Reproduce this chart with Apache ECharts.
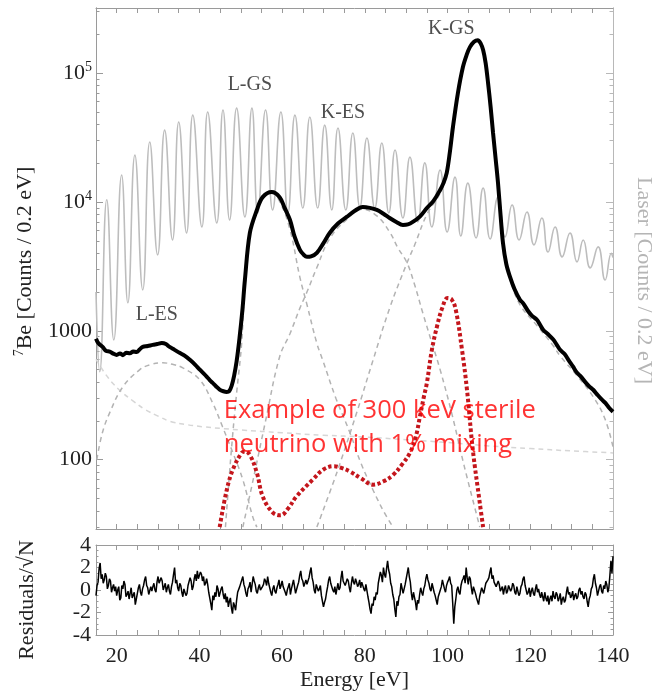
<!DOCTYPE html>
<html>
<head>
<meta charset="utf-8">
<script src="https://cdn.jsdelivr.net/npm/echarts@6.0.0/dist/echarts.min.js"></script>
<style>
  html, body { margin: 0; padding: 0; background: #fff; }
  #chart { width: 653px; height: 693px; }
</style>
</head>
<body>
<div id="chart"></div>
<script>
// energy axis ticks / labels [eV]
const energyTicks = [20, 25, 30, 35, 40, 45, 50, 55, 60, 65, 70, 75, 80, 85, 90, 95, 100, 105, 110, 115, 120, 125, 130, 135];
const energyLabels = [20, 40, 60, 80, 100, 120, 140];
const countMajor = [100, 1000, 10000, 100000];
const countMinor = [30, 40, 50, 60, 70, 80, 90, 200, 300, 400, 500, 600, 700, 800, 900,
  2000, 3000, 4000, 5000, 6000, 7000, 8000, 9000, 20000, 30000, 40000, 50000, 60000, 70000, 80000, 90000, 200000, 300000];

// 7Be spectrum (total), [E, counts]
const be7Total = [
  [15.0, 870], [15.6, 800], [16.6, 750], [17.4, 700], [18.3, 690], [19.2, 665], [20.0, 650], [20.8, 668],
  [21.5, 648], [22.3, 675], [23.2, 670], [24.0, 690], [24.8, 685], [25.6, 720], [26.3, 750], [27.5, 762],
  [28.7, 778], [29.8, 790], [30.9, 805], [31.9, 790], [32.8, 750], [34.0, 712], [35.2, 675], [36.5, 640],
  [37.7, 596], [39.0, 545], [40.1, 500], [41.0, 468], [41.8, 440], [42.5, 415], [43.2, 395], [44.0, 372],
  [44.9, 350], [45.8, 340], [46.6, 336], [47.2, 340], [47.8, 375], [48.4, 450], [49.0, 580], [49.7, 880],
  [50.4, 1450], [51.0, 2480], [52.2, 5750], [53.9, 8670], [55.3, 10900], [57.5, 11950], [59.4, 10900],
  [60.6, 9000], [61.9, 7250], [63.0, 5400], [64.3, 4250], [65.2, 3900], [66.0, 3750], [67.0, 3780],
  [68.4, 4030], [70.0, 4800], [71.5, 5750], [73.5, 6800], [75.6, 7650], [77.5, 8500], [79.5, 9150],
  [81.2, 9000], [82.9, 8670], [84.5, 8100], [86.0, 7510], [87.6, 7000], [89.2, 6640], [90.4, 6700],
  [91.6, 7000], [93.3, 7700], [95.0, 8980], [96.6, 10200], [98.2, 12400], [99.0, 14000], [99.8, 16800],
  [100.6, 25000], [101.3, 38100], [102.5, 70000], [103.7, 111000], [104.6, 138000], [105.4, 159000],
  [106.4, 175000], [107.3, 180000], [108.0, 170000], [108.6, 151000], [109.2, 120000], [109.8, 83500],
  [110.4, 55000], [111.0, 34300], [111.6, 22000], [112.2, 14000], [112.8, 8000], [113.4, 4810],
  [114.2, 3300], [115.1, 2620], [116.2, 2100], [117.5, 1740], [118.2, 1650], [119.5, 1420], [120.5, 1300],
  [121.6, 1220], [122.4, 1110], [123.1, 1020], [124.3, 940], [125.5, 860], [126.3, 790], [127.2, 713],
  [128.3, 660], [129.3, 590], [130.3, 530], [131.3, 472], [132.3, 440], [133.3, 400], [134.2, 372],
  [135.2, 349], [136.2, 320], [137.2, 295], [138.2, 275], [139.1, 252], [140.0, 236]
];

// fit components
const bgComp = [[15, 600], [18, 430], [21, 340], [24, 285], [27, 244], [30, 218], [33, 198], [37, 187], [41, 180],
  [46, 174], [50, 170], [60, 162], [70, 155], [80, 150], [90, 143], [100, 136], [110, 128], [120, 122], [130, 117], [140, 113]];
const lesComp = [[15.2, 100], [16.5, 160], [18.3, 231], [21.5, 368], [25.6, 500], [28.0, 545], [31.1, 565], [33.5, 550],
  [36.0, 516], [40.1, 417], [43.2, 276], [45.6, 180], [48.1, 113], [50.5, 70], [52.9, 36], [53.9, 30]];
const lgsComp = [[46.3, 30], [47.0, 60], [48.0, 150], [49.0, 330], [50.2, 790], [51.0, 2250], [52.2, 5500], [53.9, 8400],
  [55.3, 10600], [57.5, 11700], [59.4, 10100], [61.9, 6100], [64.3, 2600], [66.0, 1600], [68.4, 800], [69.8, 595],
  [73.0, 300], [76.4, 162], [79.0, 95], [82.0, 58], [84.5, 40], [86.8, 30]];
const kesComp = [[50.5, 30], [53.0, 70], [56.0, 200], [59.4, 630], [61.9, 950], [64.3, 1500], [66.0, 2000], [68.4, 3100],
  [71.5, 5200], [75.6, 7300], [79.5, 8800], [82.9, 7800], [86.0, 5850], [88.0, 4400], [90.2, 3370], [92.0, 2300],
  [94.0, 1380], [96.0, 850], [98.2, 500], [101.0, 230], [104.0, 90], [107.8, 30]];
const kgsComp = [[68.4, 30], [73.2, 79], [78.0, 230], [82.0, 595], [86.0, 1500], [90.2, 3370], [92.0, 4600], [95.0, 8000],
  [98.2, 11700], [99.8, 16500], [101.3, 38000], [102.5, 70000], [103.7, 111000], [105.4, 159000], [107.3, 180000],
  [108.6, 151000], [109.8, 83500], [111.0, 34300], [112.2, 14000], [113.4, 4800], [115.1, 2550], [117.5, 1600],
  [121.6, 1100], [125.5, 770], [127.2, 640], [131.3, 450], [135.2, 308], [138.0, 210], [140.0, 126]];

// sterile neutrino example (300 keV, 1% mixing)
const sterile = [[44.9, 30], [46.6, 58], [48.1, 84], [50.2, 113], [51.0, 116], [52.2, 109], [53.9, 79], [55.3, 52],
  [57.7, 39], [59.6, 37], [61.5, 42], [63.5, 52], [67.4, 70], [70.0, 84], [72.5, 89], [74.5, 86], [76.4, 81],
  [79.0, 72], [82.0, 64], [84.5, 68], [86.8, 76], [89.0, 92], [90.9, 113], [92.3, 150], [93.3, 215], [94.2, 300],
  [95.0, 395], [96.2, 710], [97.5, 1100], [98.7, 1500], [100.0, 1800], [101.0, 1750], [102.0, 1450], [103.5, 710],
  [104.7, 348], [106.1, 120], [107.8, 46], [108.6, 30]];

// laser calibration spectrum: peaks and troughs of the fringes
const laser = [
  [15.0, 2000], [15.9, 481], [17.6, 10400], [19.3, 851], [21.2, 16200], [22.7, 1650], [24.4, 23100], [26.3, 2080],
  [28.0, 29200], [29.9, 3880], [31.6, 36100], [33.5, 5070], [35.0, 41700], [36.9, 5750], [38.4, 47200], [40.6, 6400],
  [42.0, 49900], [44.2, 6870], [45.7, 51700], [47.3, 7250], [49.0, 53500], [51.0, 7650], [52.7, 53500], [54.1, 8220],
  [56.0, 51700], [57.7, 8670], [59.7, 49900], [61.4, 8220], [63.1, 47200], [65.0, 8980], [66.7, 45600], [68.6, 8980],
  [70.3, 39500], [72.0, 8670], [73.5, 37500], [75.4, 8670], [77.1, 34300], [78.8, 9150], [80.5, 31400], [82.4, 8980],
  [84.1, 28700], [85.8, 8220], [87.3, 25300], [89.2, 7510], [90.9, 22300], [92.8, 7000], [94.5, 20100], [96.2, 6400],
  [98.2, 17700], [99.9, 5850], [101.8, 15600], [103.2, 5450], [104.9, 14000], [106.9, 5260], [108.6, 12800],
  [110.3, 5170], [112.2, 10900], [113.9, 5360], [115.6, 9480], [117.3, 5070], [119.2, 8360], [120.9, 4650],
  [122.8, 7510], [124.3, 4090], [126.0, 6400], [127.7, 3750], [129.6, 5750], [131.3, 3430], [132.8, 5070],
  [134.5, 3080], [136.4, 4480], [138.1, 2480], [139.6, 4000], [140.0, 3700]
];

// residuals / sqrt(N), every 0.25 eV from 15 eV
const resStart = 15;
const resStep = 0.25;
const residuals = [
  -0.5, 0.4, 0.7, 1.9, 2.4, 1.0, 1.4, 0.6, 0.9, 1.5, 1.2, 0.1, 0.4, 1.0, 0.8, -0.2, 0.2, 0.5, -0.1, 0.3,
  -0.5, 0.0, 0.3, -0.9, -0.7, 0.4, 0.1, 0.8, 0.5, -0.6, -0.4, -0.1, -0.8, -0.3, 0.2, -0.7, -0.6, -0.2, -1.3, -0.8,
  -0.3, 0.2, 0.5, -0.2, -0.5, 0.1, 0.4, 0.9, 1.2, 0.4, 0.2, -0.4, -0.5, 0.3, -0.1, 0.3, 0.6, 0.0, -0.2, 0.7,
  1.2, 0.6, 0.5, 1.1, 0.8, 0.0, 0.3, 0.6, -0.2, 0.2, 0.5, -0.1, -0.4, 0.3, 0.7, 1.4, 2.0, 0.6, 0.9, 0.2,
  -0.1, 0.6, 0.4, -0.2, -0.6, 0.1, 0.2, -0.5, -0.3, 0.4, 0.5, 1.1, 0.8, 0.0, 0.3, 1.0, 1.4, 0.8, 1.7, 1.0,
  0.9, 1.6, 1.4, 0.8, 1.2, 0.4, 0.6, 1.0, 0.5, -0.2, -0.7, -1.2, -1.8, -0.5, -0.9, -0.2, -0.6, 0.4, 0.1, -0.6,
  -0.5, 0.1, 0.3, -0.4, -0.8, -0.3, -1.1, -0.6, -1.5, -1.0, -0.7, -1.6, -2.1, -1.1, -1.4, -1.8, -0.9, -0.2, -0.3, 0.3,
  0.4, 0.9, 1.2, 0.5, 0.2, -0.3, -0.6, 0.1, 0.3, 0.7, -0.2, 0.5, 1.2, 0.8, 0.5, -0.1, -0.3, 0.2, 0.5, 0.0,
  -0.1, 0.3, 0.5, 1.0, 0.8, 0.4, 1.2, 0.6, 0.2, -0.2, -0.5, 0.1, 0.4, -0.1, -0.3, 0.2, 0.5, 0.9, 0.1, 0.4,
  0.8, 0.3, 0.2, -0.2, -0.5, 0.0, 0.3, 0.6, -0.4, 0.1, 0.5, 0.9, 0.3, -0.3, -0.2, 0.4, 0.7, 1.3, 1.7, 1.0,
  0.8, 0.3, 0.2, 0.9, 0.5, 0.8, 1.1, 1.6, 2.0, 1.1, 0.7, 0.0, -0.3, 0.5, 0.4, -0.1, 0.1, 0.4, -0.5, -1.0,
  -1.5, -1.1, -0.8, -0.2, 0.3, 0.9, 1.2, 0.6, 0.5, 0.0, -0.2, 0.3, -0.4, 0.1, 0.6, 0.0, 0.2, 1.1, 1.7, 0.8,
  0.9, 0.4, 0.3, 1.0, 0.8, 0.2, -0.2, 0.6, 1.2, 0.7, 0.5, 1.0, 0.7, 0.3, 0.5, 0.9, 0.2, 0.7, 0.6, 0.1,
  -0.1, 0.5, 0.4, -0.6, -1.1, -1.7, -2.1, -1.2, -1.4, -0.6, -0.9, -0.2, -0.4, 0.6, 0.5, 1.6, 1.3, 0.7, 2.0, 1.4,
  1.1, 1.9, 2.6, 1.8, 1.4, 0.6, 0.3, -0.4, -0.8, -1.7, -2.4, -1.0, -1.4, -0.6, -0.4, 0.6, 0.5, -0.3, -0.2, 0.5,
  1.0, 1.5, 2.0, 1.2, 0.7, -0.3, -0.9, -0.2, -0.3, -1.1, -1.8, -0.9, -1.2, -0.4, 0.2, -0.2, -0.5, 0.1, 0.4, 1.0,
  1.4, 0.9, 0.6, 0.1, -0.1, 0.6, 0.5, -0.2, -0.5, -0.9, -1.3, -0.6, -0.7, 0.0, 0.3, 0.9, 0.5, 0.1, -0.2, 0.4,
  0.7, 0.9, 1.2, 0.6, 0.4, -1.2, -3.0, -1.5, -0.8, 0.0, 0.3, -0.2, -0.4, 0.4, 0.8, 1.0, 1.3, 0.6, 2.0, 1.1,
  0.5, 1.2, 1.0, 0.2, -0.4, 0.3, 0.2, -0.3, -0.7, -1.0, -1.3, -0.6, -0.5, 0.2, 0.3, -0.3, -0.2, 0.6, 0.5, 0.9,
  1.1, 1.6, 2.0, 1.0, 1.3, 0.7, 0.8, 0.3, 0.2, 0.8, 0.5, -0.1, -0.2, 0.3, -0.4, 0.1, 0.4, -0.3, -0.1, 0.4,
  0.5, -0.1, 0.1, 0.6, 0.4, -0.2, -0.4, 0.3, 0.2, -0.5, -0.3, 0.3, 0.5, 1.0, 1.2, 0.4, 0.3, -0.4, -0.2, 0.2,
  -0.6, -0.1, 0.2, -0.3, -0.5, 0.1, 0.5, -0.2, 0.1, -0.4, -0.7, -0.2, -0.6, -1.0, -0.2, -0.7, -1.0, -0.5, -1.3, -0.8,
  -0.5, -1.0, -0.1, -0.6, -0.8, -0.2, -0.4, -1.0, -0.7, -0.3, -1.3, -0.8, -0.6, -1.1, -0.9, -0.2, 0.3, -0.4, -0.2, -0.7,
  -0.5, -0.1, -0.9, -0.5, -0.3, -0.8, -0.6, 0.0, 0.2, -0.4, -0.1, -0.6, -0.8, -0.2, -0.4, -1.0, -1.5, -0.8, -0.5, 0.1,
  0.3, 1.0, 1.4, 0.6, 0.2, -0.5, -0.4, 0.3, 0.5, -0.1, -0.3, 0.4, 0.1, 0.8, 0.5, -0.2, 0.2, 1.3, 2.6, 1.5,
  3.0
];

// peak labels [E, counts, text]
const peakNotes = [[29.7, 1330, 'L-ES'], [52.2, 80700, 'L-GS'], [74.7, 49000, 'K-ES'], [100.9, 219000, 'K-GS']];
const sterileNote = [[45.9, 177, 'Example of 300 keV sterile\nneutrino with 1% mixing']];

const serif = 'Liberation Serif';
const frame = '#9a9a9a';
const residualData = residuals.map((r, i) => [resStart + i * resStep, r]);

function countLabel(v) {
  const p = Math.round(Math.log10(v));
  return p >= 4 ? '10{sup|' + p + '}' : String(Math.round(v));
}

function energyAxis(grid, pos, labels, name) {
  return {
    type: 'value', gridIndex: grid, position: pos, min: 15, max: 140,
    axisLine: { show: true, onZero: false, lineStyle: { color: frame, width: 1 } },
    axisTick: { show: true, inside: true, length: 5, customValues: energyTicks, lineStyle: { color: frame } },
    axisLabel: labels ? { show: true, customValues: energyLabels, margin: 10, color: '#222', fontFamily: serif, fontSize: 22 } : { show: false },
    splitLine: { show: false },
    name: name || '', nameLocation: 'middle', nameGap: 34,
    nameTextStyle: { color: '#222', fontFamily: serif, fontSize: 22 }
  };
}

function countAxis(pos, ticks, len, color, labels, extra) {
  return Object.assign({
    type: 'log', gridIndex: 0, position: pos, min: 29, max: 320000, logBase: 10,
    axisLine: { show: true, lineStyle: { color: color, width: 1 } },
    axisTick: { show: true, inside: true, length: len, customValues: ticks, lineStyle: { color: color } },
    axisLabel: labels ? {
      show: true, customValues: countMajor, formatter: countLabel, margin: 4,
      color: '#222', fontFamily: serif, fontSize: 22,
      rich: { sup: { fontSize: 14, fontFamily: serif, color: '#222', padding: [0, 0, 12, 0] } }
    } : { show: false },
    splitLine: { show: false }
  }, extra || {});
}

function residualAxis(pos, labels, extra) {
  return Object.assign({
    type: 'value', gridIndex: 1, position: pos, min: -4, max: 4, interval: 2,
    axisLine: { show: true, lineStyle: { color: frame } },
    axisTick: { show: true, inside: true, length: 5, lineStyle: { color: frame } },
    minorTick: { show: true, splitNumber: 4, length: 2.5, lineStyle: { color: frame } },
    axisLabel: labels ? {
      show: true, margin: 5, color: '#222', fontFamily: serif, fontSize: 22, lineHeight: 18,
      showMinLabel: true, showMaxLabel: true, hideOverlap: false
    } : { show: false },
    splitLine: { show: false }
  }, extra || {});
}

const chart = echarts.init(document.getElementById('chart'), null, { renderer: 'canvas' });

const dashedGray = { color: '#b3b3b3', width: 1.5, type: [5, 4] };

chart.setOption({
  animation: false,
  backgroundColor: '#fff',
  grid: [
    { left: 96, top: 8, width: 517, height: 521, containLabel: false, outerBoundsMode: 'none' },
    { left: 96, top: 545, width: 517, height: 90, containLabel: false, outerBoundsMode: 'none' }
  ],
  xAxis: [
    energyAxis(0, 'bottom', false),
    energyAxis(0, 'top', false),
    energyAxis(1, 'bottom', true, 'Energy [eV]'),
    energyAxis(1, 'top', false)
  ],
  yAxis: [
    countAxis('left', countMajor, 7, frame, true, {
      name: '{sup|7}Be [Counts / 0.2 eV]', nameLocation: 'middle', nameGap: 58,
      nameTextStyle: {
        color: '#222', fontFamily: serif, fontSize: 22, padding: [0, 0, 0, 14],
        rich: { sup: { fontSize: 14, fontFamily: serif, color: '#222', padding: [0, 0, 12, 0] } }
      }
    }),
    countAxis('left', countMinor, 3.5, frame, false),
    countAxis('right', countMajor, 7, '#b8b8b8', false, {
      name: 'Laser [Counts / 0.2 eV]', nameLocation: 'middle', nameGap: 20, nameRotate: -90,
      nameTextStyle: { color: '#b5b5b5', fontFamily: serif, fontSize: 22, padding: [0, 0, 0, 24] }
    }),
    countAxis('right', countMinor, 3.5, '#b8b8b8', false),
    residualAxis('left', true, {
      name: 'Residuals/\u221AN', nameLocation: 'middle', nameGap: 58,
      nameTextStyle: { color: '#222', fontFamily: serif, fontSize: 22, padding: [0, 20, 0, 0] }
    }),
    residualAxis('right', false)
  ],
  series: [
    {
      name: 'Laser', type: 'line', xAxisIndex: 0, yAxisIndex: 2, data: laser,
      smooth: 0.5, showSymbol: false, z: 1,
      lineStyle: { color: '#bdbdbd', width: 1.6 }
    },
    {
      name: 'Background', type: 'line', xAxisIndex: 0, yAxisIndex: 0, data: bgComp,
      smooth: 0.4, showSymbol: false, z: 2,
      lineStyle: { color: '#d6d6d6', width: 1.5, type: [5, 4] }
    },
    { name: 'L-ES', type: 'line', xAxisIndex: 0, yAxisIndex: 0, data: lesComp, smooth: 0.4, showSymbol: false, z: 2, lineStyle: dashedGray },
    { name: 'L-GS', type: 'line', xAxisIndex: 0, yAxisIndex: 0, data: lgsComp, smooth: 0.4, showSymbol: false, z: 2, lineStyle: dashedGray },
    { name: 'K-ES', type: 'line', xAxisIndex: 0, yAxisIndex: 0, data: kesComp, smooth: 0.4, showSymbol: false, z: 2, lineStyle: dashedGray },
    { name: 'K-GS', type: 'line', xAxisIndex: 0, yAxisIndex: 0, data: kgsComp, smooth: 0.4, showSymbol: false, z: 2, lineStyle: dashedGray },
    {
      name: '7Be', type: 'line', xAxisIndex: 0, yAxisIndex: 0, data: be7Total,
      smooth: 0.35, showSymbol: false, z: 4,
      lineStyle: { color: '#000', width: 4 }
    },
    {
      name: 'Sterile', type: 'line', xAxisIndex: 0, yAxisIndex: 0, data: sterile,
      smooth: 0.4, showSymbol: false, z: 5,
      lineStyle: { color: '#c4161c', width: 4, type: [3.5, 2.5] }
    },
    {
      name: 'Peaks', type: 'scatter', xAxisIndex: 0, yAxisIndex: 0, data: peakNotes,
      symbolSize: 0, z: 6, silent: true,
      label: { show: true, position: 'inside', formatter: p => p.data[2], color: '#222', fontFamily: serif, fontSize: 20 }
    },
    {
      name: 'Note', type: 'scatter', xAxisIndex: 0, yAxisIndex: 0, data: sterileNote,
      symbolSize: 0, z: 7, silent: true,
      label: {
        show: true, position: 'right', distance: 0, align: 'left', formatter: p => p.data[2],
        color: '#ff0000', fontFamily: 'Open Sans', fontSize: 25.5, lineHeight: 34
      }
    },
    {
      name: 'Residuals', type: 'line', xAxisIndex: 2, yAxisIndex: 4, data: residualData,
      showSymbol: false, lineStyle: { color: '#000', width: 1.5 }
    }
  ]
});
</script>
</body>
</html>
